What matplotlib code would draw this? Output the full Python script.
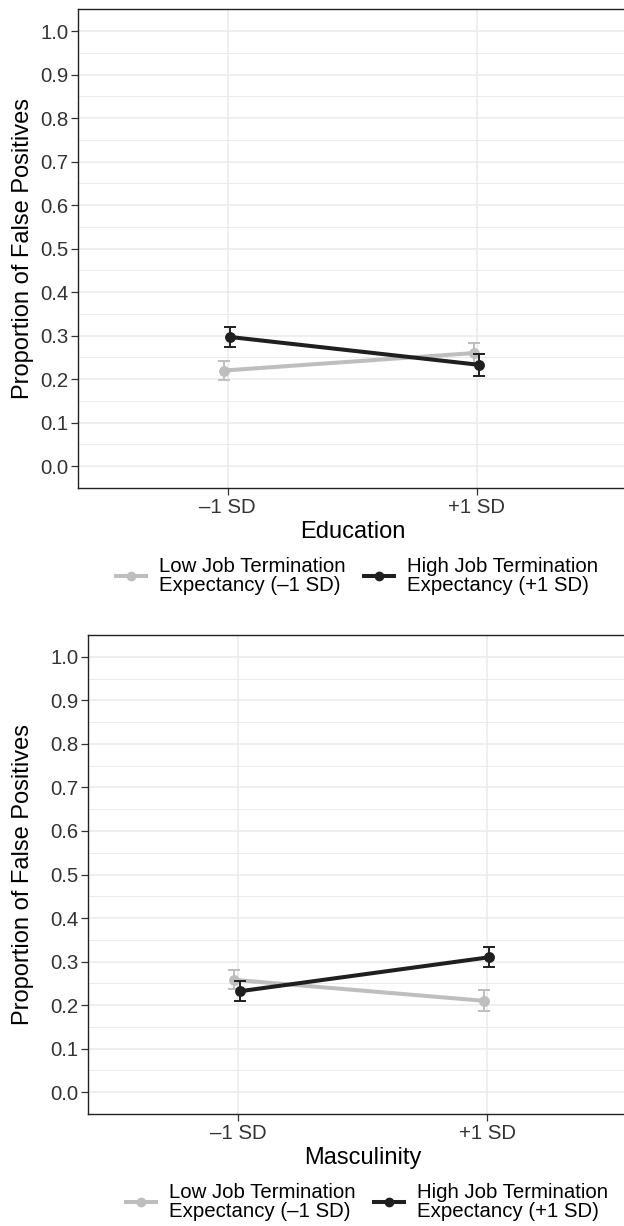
import matplotlib
matplotlib.use("Agg")
import matplotlib.pyplot as plt
from matplotlib.lines import Line2D
import numpy as np

plt.rcParams['font.family'] = ['Liberation Sans', 'DejaVu Sans']

# ---- data ----
x_levels = ["\u20131 SD", "+1 SD"]
y_ticks = [0.0, 0.1, 0.2, 0.3, 0.4, 0.5, 0.6, 0.7, 0.8, 0.9, 1.0]
series_labels = ["Low Job Termination\nExpectancy (\u20131 SD)",
                 "High Job Termination\nExpectancy (+1 SD)"]

edu_low = [0.220, 0.260]
edu_low_err = [0.022, 0.023]
edu_high = [0.297, 0.233]
edu_high_err = [0.022, 0.025]

masc_low = [0.258, 0.210]
masc_low_err = [0.022, 0.024]
masc_high = [0.232, 0.310]
masc_high_err = [0.023, 0.023]

panels = [
    dict(xlabel="Education", low=edu_low, low_err=edu_low_err,
         high=edu_high, high_err=edu_high_err),
    dict(xlabel="Masculinity", low=masc_low, low_err=masc_low_err,
         high=masc_high, high_err=masc_high_err),
]

# ---- style ----
W, H = 624, 1226
GREY = "#bebec0"
BLACK = "#1f1f1f"
GRID = "#ebebeb"
TXT = "#333333"

fig = plt.figure(figsize=(W / 100, H / 100), dpi=100)

# axes boxes in pixels: left, right, top, bottom
boxes = [(78.3, 626.5, 9.3, 488.0), (88.3, 636.7, 635.0, 1114.0)]
legend_centers = [(357, 576), (367, 1202)]

for p, box, lc in zip(panels, boxes, legend_centers):
    l, r, t, b = box
    ax = fig.add_axes([l / W, (H - b) / H, (r - l) / W, (b - t) / H])
    pos = np.arange(1, len(x_levels) + 1)
    ax.set_xlim(0.4, 2.6)
    ax.set_ylim(-0.05, 1.05)
    ax.set_xticks(pos)
    ax.set_xticklabels(x_levels)
    ax.set_yticks(y_ticks)
    ax.set_yticklabels([f"{v:.1f}" for v in y_ticks])
    ax.set_yticks(np.arange(0.05, 1.0, 0.1), minor=True)
    ax.grid(True, which='major', color=GRID, lw=1.1, zorder=0)
    ax.grid(True, which='minor', axis='y', color=GRID, lw=0.7, zorder=0)
    ax.set_axisbelow(True)
    ax.tick_params(axis='both', which='major', direction='out', length=5,
                   width=0.9, color=TXT, labelcolor=TXT, labelsize=14.7, pad=2)
    ax.tick_params(axis='y', which='minor', length=0)
    for s in ax.spines.values():
        s.set_color("#222222")
        s.set_linewidth(1.0)

    off_low, off_high = -0.014, 0.009
    ax.errorbar(pos + off_low, p["low"], yerr=p["low_err"], color=GREY,
                lw=2.9, marker='o', ms=6.8, elinewidth=1.4, capsize=4.3,
                capthick=1.4, zorder=3)
    ax.errorbar(pos + off_high, p["high"], yerr=p["high_err"], color=BLACK,
                lw=2.9, marker='o', ms=6.8, elinewidth=1.4, capsize=4.3,
                capthick=1.4, zorder=4)

    ax.set_xlabel(p["xlabel"], fontsize=17, color="black", va='center')
    ax.xaxis.set_label_coords(0.5, -44 / (b - t))
    ax.set_ylabel("Proportion of False Positives", fontsize=17,
                  color="black", va='center')
    ax.yaxis.set_label_coords((22.7 - l) / (r - l), 0.5)

    handles = [Line2D([], [], color=GREY, lw=2.9, marker='o', ms=6.0),
               Line2D([], [], color=BLACK, lw=2.9, marker='o', ms=6.0)]
    leg = fig.legend(handles, series_labels, loc='center',
                     bbox_to_anchor=(lc[0] / W, (H - lc[1]) / H),
                     ncol=2, frameon=False, fontsize=14.7,
                     handlelength=1.47, handletextpad=0.64,
                     columnspacing=0.93, borderpad=0, borderaxespad=0)
    for tx in leg.get_texts():
        tx.set_linespacing(0.95)
        tx.set_color("black")

fig.savefig("out.png", dpi=100)
